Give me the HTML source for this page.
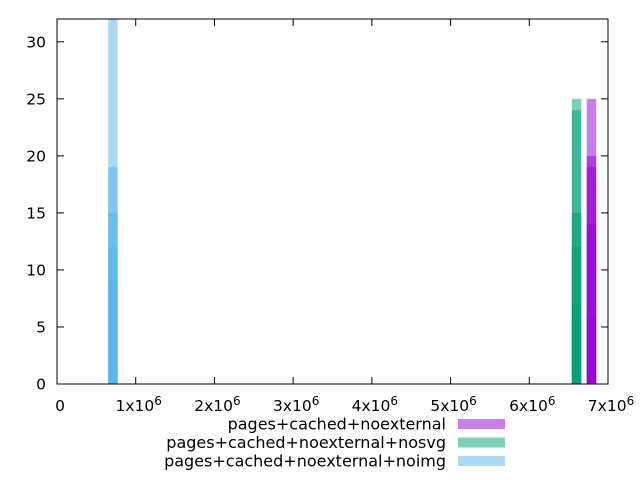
<!DOCTYPE html>
<html><head><meta charset="utf-8"><style>
body{margin:0;background:#fff;}
svg{display:block;font-family:"DejaVu Sans","Liberation Sans",sans-serif;}
</style></head><body>
<svg id="chart" width="640" height="480"></svg>
<script>
const seriesNames=["pages+cached+noexternal","pages+cached+noexternal+nosvg","pages+cached+noexternal+noimg"];
const seriesColors=["#9400d3","#009e73","#56b4e9"];
const seriesX=[6.79e6,6.6e6,0.71e6];
const purpleCounts=[25,20,19,14,6];
const greenCounts=[25,24,15,12,7];
const blueCounts=[40,19,15,12,9];
const yTicks=[0,5,10,15,20,25,30];
const xTicks=[0,1,2,3,4,5,6,7];
const counts=[purpleCounts,greenCounts,blueCounts];
const L=57,R=608,T=19,B=384,XMAX=7e6,YMAX=32,BW=0.12e6;
const FS=15.5;
const sx=v=>L+(v/XMAX)*(R-L), sy=v=>B-(v/YMAX)*(B-T);
const NS="http://www.w3.org/2000/svg", svg=document.getElementById('chart');
function mk(t,a,p){const e=document.createElementNS(NS,t);for(const k in a)e.setAttribute(k,a[k]);(p||svg).appendChild(e);return e;}
const defs=mk('defs',{});const cp=mk('clipPath',{id:'pc'},defs);mk('rect',{x:L,y:T,width:R-L,height:B-T},cp);
const g=mk('g',{'clip-path':'url(#pc)'});
counts.forEach((arr,si)=>{arr.forEach((c,i)=>{
 const x0=sx(seriesX[si]-BW/2),x1=sx(seriesX[si]+BW/2);
 const r=mk('rect',{x:x0,y:sy(c),width:x1-x0,height:sy(0)-sy(c),fill:seriesColors[si],'fill-opacity':0.5},g);
 
 
});});
const frame=mk('rect',{x:L,y:T,width:R-L,height:B-T,fill:'none',stroke:'#000','stroke-width':1});

yTicks.forEach(v=>{const y=sy(v);
 mk('line',{x1:L,x2:L+7,y1:y,y2:y,stroke:'#000'});mk('line',{x1:R,x2:R-7,y1:y,y2:y,stroke:'#000'});
 const t=mk('text',{x:46,y:y+5.5,'text-anchor':'end','font-size':FS});t.textContent=v;
 });
xTicks.forEach(v=>{const x=sx(v*1e6);
 mk('line',{x1:x,x2:x,y1:B,y2:B-7,stroke:'#000'});mk('line',{x1:x,x2:x,y1:T,y2:T+7,stroke:'#000'});
 const t=mk('text',{x:x+3,y:B+27,'text-anchor':'middle','font-size':FS});
 if(v===0)t.textContent='0';else{t.textContent=v+'x10';const s=mk('tspan',{dy:-6,'font-size':12},t);s.textContent='6';}
 });
seriesNames.forEach((n,i)=>{const y=424+i*18.5;
 const t=mk('text',{x:446,y:y+5.5,'text-anchor':'end','font-size':16});t.textContent=n;
 
 const r=mk('rect',{x:458,y:y-5,width:47,height:10,fill:seriesColors[i],'fill-opacity':0.5});
 });
</script></body></html>
